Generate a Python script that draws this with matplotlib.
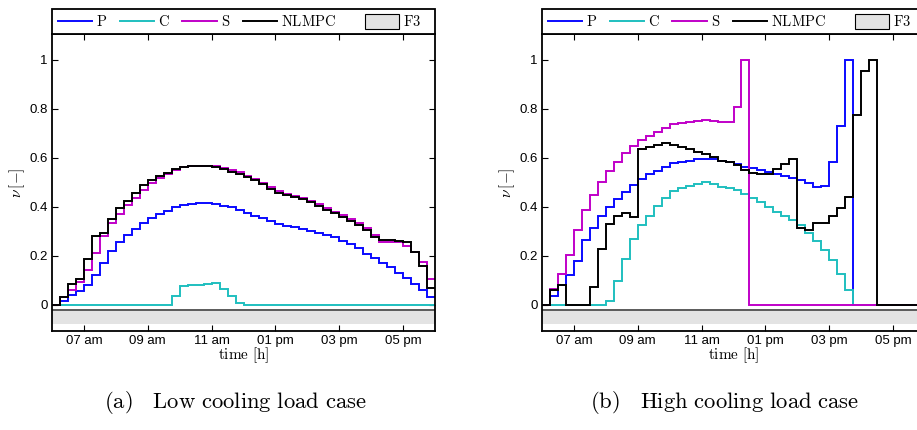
import numpy as np
import matplotlib
matplotlib.use("Agg")
import matplotlib.pyplot as plt
from matplotlib.patches import Patch, Rectangle
from matplotlib.lines import Line2D

plt.rcParams['mathtext.fontset'] = 'cm'
plt.rcParams['font.family'] = 'Liberation Sans'

# 15-min steps from 06:00 to 18:00 (48 values per series)
t = 6 + 0.25 * np.arange(49)

# (a) Low cooling load case
P_a = [0, 0.016, 0.04, 0.057, 0.08, 0.121, 0.169, 0.22, 0.257, 0.284, 0.309, 0.332,
       0.353, 0.369, 0.384, 0.397, 0.407, 0.412, 0.414, 0.414, 0.41, 0.403, 0.397, 0.387,
       0.373, 0.362, 0.352, 0.343, 0.329, 0.321, 0.316, 0.309, 0.302, 0.294, 0.284, 0.275,
       0.261, 0.248, 0.23, 0.209, 0.189, 0.172, 0.153, 0.131, 0.108, 0.084, 0.06, 0.033]
C_a = [0] * 15 + [0.035, 0.077, 0.079, 0.081, 0.083, 0.087, 0.065, 0.037, 0.006] + [0] * 24
S_a = [0, 0.03, 0.06, 0.094, 0.141, 0.21, 0.28, 0.332, 0.369, 0.407, 0.437, 0.468,
       0.495, 0.516, 0.533, 0.55, 0.561, 0.566, 0.566, 0.566, 0.565, 0.558, 0.548, 0.54,
       0.525, 0.512, 0.495, 0.48, 0.462, 0.452, 0.445, 0.435, 0.423, 0.41, 0.395, 0.38,
       0.365, 0.35, 0.333, 0.312, 0.285, 0.256, 0.256, 0.254, 0.24, 0.216, 0.175, 0.105]
N_a = [0, 0.03, 0.084, 0.106, 0.188, 0.282, 0.294, 0.35, 0.393, 0.425, 0.456, 0.487,
       0.509, 0.527, 0.539, 0.554, 0.563, 0.565, 0.565, 0.565, 0.56, 0.554, 0.543, 0.533,
       0.522, 0.509, 0.491, 0.471, 0.457, 0.449, 0.441, 0.43, 0.417, 0.403, 0.387, 0.373,
       0.357, 0.343, 0.325, 0.305, 0.278, 0.264, 0.264, 0.262, 0.255, 0.216, 0.158, 0.069]

# (b) High cooling load case
P_b = [0, 0.036, 0.08, 0.121, 0.178, 0.263, 0.313, 0.36, 0.4, 0.431, 0.461, 0.488,
       0.514, 0.533, 0.547, 0.563, 0.577, 0.582, 0.588, 0.593, 0.596, 0.593, 0.586, 0.581,
       0.573, 0.563, 0.557, 0.55, 0.542, 0.532, 0.525, 0.516, 0.509, 0.495, 0.482, 0.485,
       0.581, 0.729, 1.0] + [0] * 9
C_b = [0] * 8 + [0.016, 0.097, 0.185, 0.267, 0.327, 0.363, 0.404, 0.437, 0.464, 0.478,
                 0.485, 0.493, 0.5, 0.493, 0.482, 0.478, 0.468, 0.452, 0.434, 0.417, 0.4,
                 0.38, 0.363, 0.346, 0.325, 0.294, 0.261, 0.223, 0.182, 0.125, 0.06] + [0] * 9
S_b = [0, 0.063, 0.125, 0.204, 0.304, 0.388, 0.448, 0.5, 0.547, 0.584, 0.618, 0.648,
       0.672, 0.69, 0.706, 0.721, 0.738, 0.742, 0.747, 0.751, 0.754, 0.75, 0.747, 0.745,
       0.806, 1.0] + [0] * 22
N_b = [0, 0.059, 0.08, 0, 0, 0, 0.071, 0.226, 0.33, 0.362, 0.376, 0.356,
       0.634, 0.645, 0.652, 0.658, 0.652, 0.642, 0.634, 0.624, 0.615, 0.601, 0.588, 0.581,
       0.568, 0.55, 0.539, 0.534, 0.534, 0.552, 0.574, 0.595, 0.312, 0.305, 0.332, 0.334,
       0.362, 0.396, 0.441, 0.774, 0.955, 1.0] + [0] * 6

xtick_pos = [7, 9, 11, 13, 15, 17]
xtick_lbl = ["07 am", "09 am", "11 am", "01 pm", "03 pm", "05 pm"]
ytick_pos = [0, 0.2, 0.4, 0.6, 0.8, 1]
ytick_lbl = ["0", "0.2", "0.4", "0.6", "0.8", "1"]

names = ["P", "C", "S", "NLMPC"]
colors = ["#0a0aff", "#1fbfbf", "#c000c8", "black"]

fig = plt.figure(figsize=(9.17, 4.30), dpi=100)
ax_a = fig.add_axes([52 / 917, 99 / 430, 383 / 917, 297 / 430])
ax_b = fig.add_axes([542 / 917, 99 / 430, 383 / 917, 297 / 430])

leg_kw = dict(frameon=False, borderpad=0, borderaxespad=0, fontsize=10.5,
              handlelength=2.35, handletextpad=0.28, columnspacing=0.85)


def draw(ax, series, caption):
    # banda gris F3
    ax.fill_between([6, 18], -0.08, -0.02, facecolor="#e3e3e3", edgecolor="none", zorder=1)
    ax.axhline(-0.02, color="#5a5a5a", lw=1.4, zorder=1.5)
    for s, c in zip(series, colors):
        ax.stairs(s, t, color=c, lw=1.4, baseline=None, zorder=2)
    ax.set_xlim(6, 18)
    ax.set_ylim(-0.107, 1.104)
    ax.set_xticks(xtick_pos)
    ax.set_xticklabels(xtick_lbl, fontsize=9.5)
    ax.set_yticks(ytick_pos)
    ax.set_yticklabels(ytick_lbl, fontsize=9.5)
    ax.tick_params(direction="in", length=4, width=0.8, top=True, right=True, pad=3)
    for sp in ax.spines.values():
        sp.set_linewidth(1.3)
    ax.set_xlabel(r"$\mathrm{time\ [h]}$", fontsize=11, labelpad=-1)
    ax.set_ylabel(r"$\nu\,[-]$", fontsize=11, labelpad=2)

    # caja de leyenda sobre el eje
    ax.add_patch(Rectangle((0, 1), 1, 0.084, transform=ax.transAxes, clip_on=False,
                           facecolor="white", edgecolor="black", lw=1.3, zorder=3))
    handles = [Line2D([], [], color=c, lw=1.4) for c in colors]
    leg1 = ax.legend(handles, [r"$\mathrm{%s}$" % n for n in names], ncol=4,
                     loc="center left", bbox_to_anchor=(0.0157, 1.042), **leg_kw)
    leg1.set_zorder(4)
    ax.add_artist(leg1)
    leg2 = ax.legend([Patch(facecolor="#e3e3e3", edgecolor="black", lw=0.8)],
                     [r"$\mathrm{F3}$"], loc="center left", bbox_to_anchor=(0.817, 1.042),
                     handleheight=1.2, **leg_kw)
    leg2.set_zorder(4)
    ax.text(0.478, -0.24, caption, transform=ax.transAxes, ha="center", va="center",
            fontsize=16.3)


draw(ax_a, [P_a, C_a, S_a, N_a], r"$\mathrm{(a)\ \ \ Low\ cooling\ load\ case}$")
draw(ax_b, [P_b, C_b, S_b, N_b], r"$\mathrm{(b)\ \ \ High\ cooling\ load\ case}$")

fig.savefig("out.png", dpi=100)
